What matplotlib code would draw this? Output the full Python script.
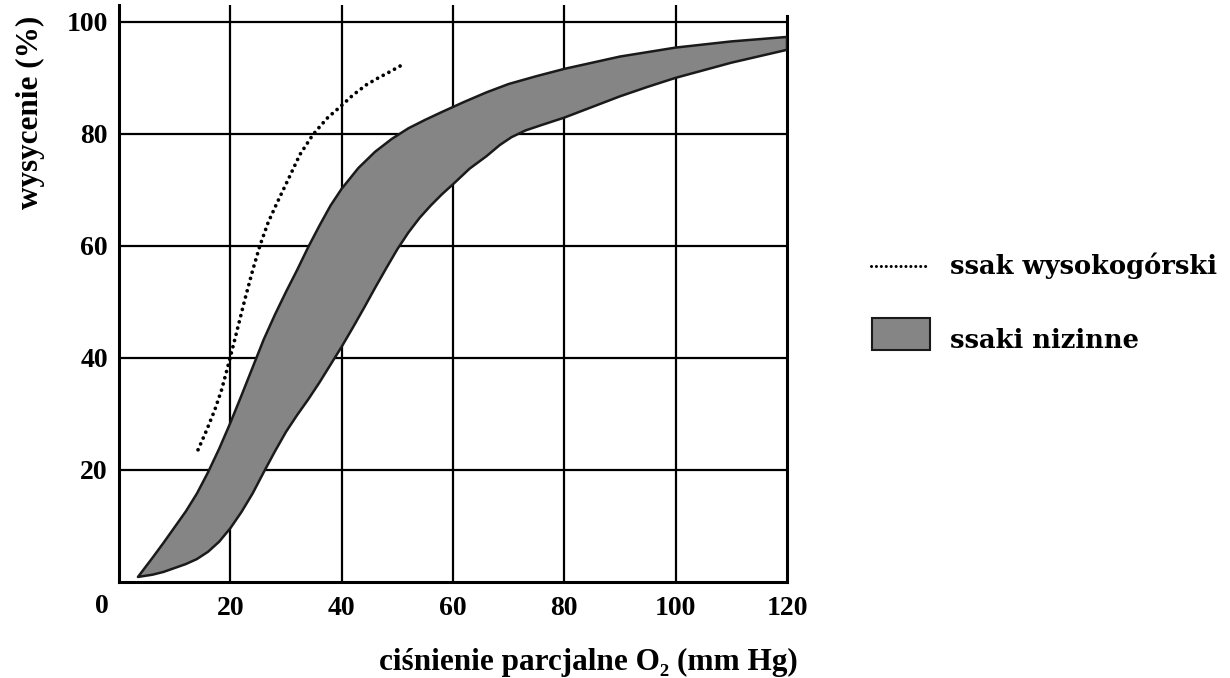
import matplotlib
matplotlib.use("Agg")
import matplotlib.pyplot as plt
from matplotlib.lines import Line2D
from matplotlib.patches import Rectangle

# ---- data ----
high_x = [14.2, 15.7, 17.2, 18.4, 19.4, 20.6, 22.6, 24.0, 25.3, 26.8, 28.4, 30.7,
          32.5, 34.8, 36.0, 37.5, 39.7, 42.0, 44.5, 46.6, 48.7, 51.2]
high_y = [23.6, 27.0, 30.7, 34.2, 37.9, 42.5, 50.4, 55.6, 60.0, 64.2, 67.7, 72.5,
          76.3, 79.8, 81.2, 82.9, 84.8, 86.9, 88.8, 90.0, 91.1, 92.5]

band_upper_x = [3.4, 6, 8, 10, 12, 14, 16, 18, 20, 22, 24, 26, 28, 30, 32, 34,
                36, 38, 40, 43, 46, 49, 52, 55, 58, 62, 66, 70, 75, 80, 90, 100,
                110, 120]
band_upper_y = [0.9, 4.3, 7.0, 9.8, 12.6, 15.8, 19.6, 23.8, 28.4, 33.3, 38.3, 43.3,
                47.7, 51.8, 55.7, 59.8, 63.6, 67.2, 70.2, 73.9, 76.8, 79.1, 81.0,
                82.5, 83.9, 85.7, 87.4, 88.9, 90.3, 91.6, 93.8, 95.4, 96.5, 97.3]
band_lower_x = [3.4, 6, 8, 10, 12, 14, 16, 18, 20, 22, 24, 26, 28, 30, 32, 34,
                36, 38, 40, 42, 44, 46, 48, 50, 52, 54, 56, 58, 60, 63, 66, 68.4,
                70.5, 73, 76, 80, 85, 90, 95, 100, 110, 120]
band_lower_y = [0.9, 1.3, 1.8, 2.5, 3.2, 4.1, 5.4, 7.2, 9.6, 12.5, 15.8, 19.6,
                23.3, 26.8, 29.8, 32.6, 35.6, 38.8, 42.0, 45.4, 48.9, 52.5, 56.0,
                59.4, 62.4, 65.0, 67.2, 69.2, 71.0, 73.8, 76.0, 78.0, 79.4, 80.6,
                81.6, 82.9, 84.8, 86.7, 88.4, 90.0, 92.7, 95.0]

x_ticks = [20, 40, 60, 80, 100, 120]
y_ticks = [20, 40, 60, 80, 100]
x_label = "ciśnienie parcjalne O₂ (mm Hg)"
y_label = "wysycenie (%)"
legend_labels = ["ssak wysokogórski", "ssaki nizinne"]

# ---- figure ----
W, H = 1230, 678
fig = plt.figure(figsize=(W / 100, H / 100), dpi=100)
serif = ["Liberation Serif", "DejaVu Serif"]
band_face = "#858585"
band_edge = "#1a1a1a"

ax = fig.add_axes([119 / W, 1 - 582 / H, (787 - 119) / W, (582 - 5) / H])
ax.set_xlim(0, 120)
ax.set_ylim(0, 103)

# band (lowland mammals)
poly_x = band_upper_x + band_lower_x[::-1]
poly_y = band_upper_y + band_lower_y[::-1]
ax.fill(poly_x, poly_y, facecolor=band_face, edgecolor=band_edge, linewidth=1.8,
        joinstyle="round", zorder=3)

# dotted curve (high-mountain mammal)
ax.plot(high_x, high_y, color="black", linewidth=2.7,
        linestyle=(0, (0.01, 1.7)), dash_capstyle="round", zorder=4)

# grid
for xv in x_ticks[:-1]:
    ax.axvline(xv, color="black", linewidth=1.6, zorder=2)
for yv in y_ticks:
    ax.axhline(yv, color="black", linewidth=1.6, zorder=2)

ax.spines["top"].set_visible(False)
for s in ["left", "bottom", "right"]:
    ax.spines[s].set_linewidth(2.2)
ax.spines["right"].set_bounds(0, 101)

ax.set_xticks(x_ticks)
ax.set_yticks(y_ticks)
ax.tick_params(length=0, pad=8)
ax.tick_params(axis="x", pad=10)
for lab in ax.get_xticklabels() + ax.get_yticklabels():
    lab.set_fontfamily(serif)
    lab.set_fontweight("bold")
    lab.set_fontsize(20)
ax.text(-3.0, -2.2, "0", transform=ax.transData, ha="center", va="top",
        fontsize=20, fontweight="bold", family=serif, clip_on=False)

fig.text(30 / W, 1 - 112 / H, y_label, rotation=90, ha="center", va="center",
         fontsize=22.5, fontweight="bold", family=serif)
fig.text(588 / W, 1 - 662 / H, x_label, ha="center", va="center",
         fontsize=22.5, fontweight="bold", family=serif)

# legend
fig.add_artist(Line2D([871 / W, 928 / W], [1 - 266 / H, 1 - 266 / H],
                      color="black", linewidth=2.2, linestyle=(0, (0.01, 1.6)),
                      dash_capstyle="round", transform=fig.transFigure))
fig.add_artist(Rectangle((872 / W, 1 - 350 / H), 58 / W, 32 / H,
                         facecolor=band_face, edgecolor=band_edge, linewidth=1.5,
                         transform=fig.transFigure))
fig.text(950 / W, 1 - 266 / H, legend_labels[0], ha="left", va="center",
         fontsize=18.5, fontweight="bold", family=["DejaVu Serif"])
fig.text(950 / W, 1 - 340 / H, legend_labels[1], ha="left", va="center",
         fontsize=18.5, fontweight="bold", family=["DejaVu Serif"])

fig.savefig("out.png", dpi=100, facecolor="white")
